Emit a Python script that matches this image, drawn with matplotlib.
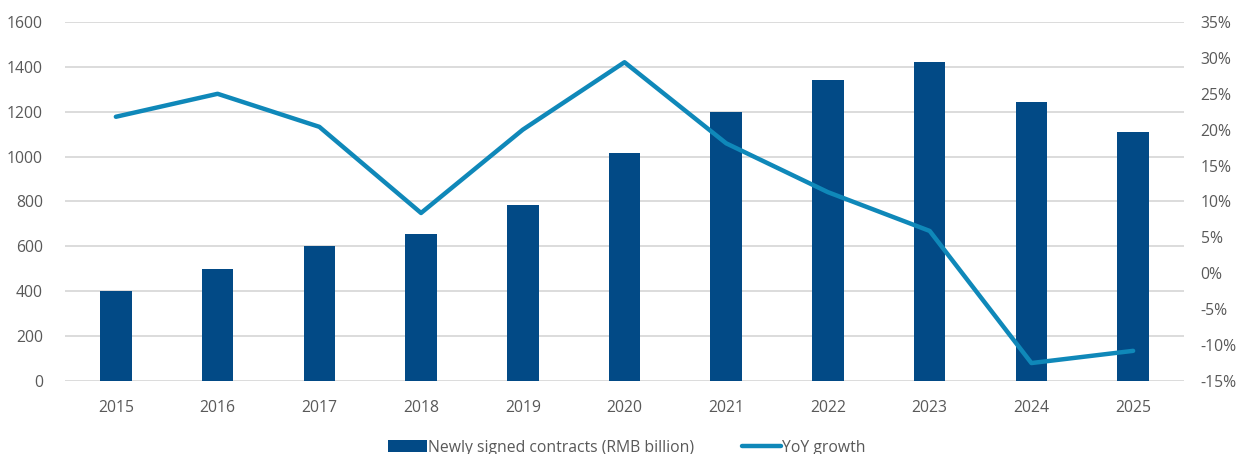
import matplotlib
matplotlib.use("Agg")
import matplotlib.pyplot as plt
from matplotlib.ticker import FuncFormatter

years = ["2015", "2016", "2017", "2018", "2019", "2020", "2021", "2022", "2023", "2024", "2025"]
contracts = [400, 500, 600, 655, 785, 1015, 1200, 1340, 1420, 1245, 1110]
yoy_growth = [21.8, 25.0, 20.4, 8.4, 20.0, 29.4, 18.1, 11.3, 5.9, -12.5, -10.8]

BAR_COLOR = "#024A86"
LINE_COLOR = "#0F88B9"
TEXT_COLOR = "#595959"
GRID_COLOR = "#D9D9D9"

plt.rcParams['font.family'] = ['Open Sans', 'DejaVu Sans']
FS = 11.3

fig = plt.figure(figsize=(12.41, 4.54), dpi=100)
ax = fig.add_axes([65 / 1241, 73 / 454, (1184 - 65) / 1241, (381 - 22) / 454])
x = list(range(len(years)))

bars = ax.bar(x, contracts, width=0.31, color=BAR_COLOR, zorder=2,
              label="Newly signed contracts (RMB billion)")
ax.set_ylim(0, 1600)
ax.set_yticks(range(0, 1601, 200))
ax.set_xlim(-0.5, len(years) - 0.5)
ax.set_xticks(x)
ax.set_xticklabels(years)
ax.grid(axis="y", color=GRID_COLOR, linewidth=1.3, zorder=0)
ax.set_axisbelow(True)

ax2 = ax.twinx()
line, = ax2.plot(x, yoy_growth, color=LINE_COLOR, linewidth=3.2, zorder=3,
                 solid_capstyle="round", label="YoY growth")
ax2.set_ylim(-15, 35)
ax2.set_yticks(range(-15, 36, 5))
ax2.yaxis.set_major_formatter(FuncFormatter(lambda v, p: f"{v:.0f}%"))

for a in (ax, ax2):
    for s in a.spines.values():
        s.set_visible(False)
    a.tick_params(length=0, colors=TEXT_COLOR, labelsize=FS)
ax.tick_params(axis="y", pad=16)
ax.tick_params(axis="x", pad=14)
ax2.tick_params(axis="y", pad=12)

fig.legend([bars, line], [bars.get_label(), line.get_label()],
           loc="lower center", bbox_to_anchor=(0.505, -0.035), ncol=2, frameon=False,
           handlelength=2.5, handleheight=0.8, handletextpad=0.1, columnspacing=3.0,
           labelcolor=TEXT_COLOR, fontsize=FS)

fig.savefig("out.png", dpi=100)
